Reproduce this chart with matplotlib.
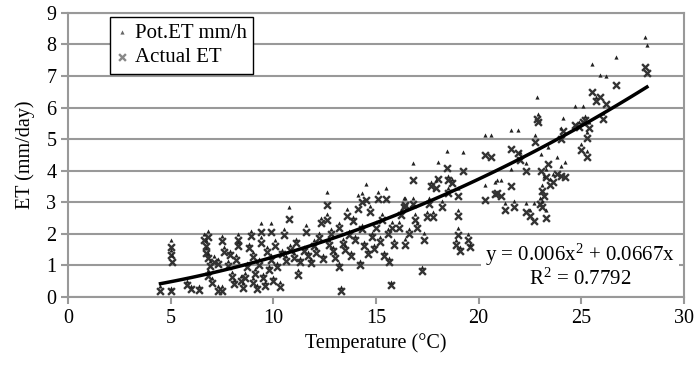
import numpy as np
import matplotlib
matplotlib.use('Agg')
import matplotlib.pyplot as plt

# temperature (C), potential ET and actual ET (mm/day)
temp = [4.5, 5.0, 5.0, 5.0, 5.05, 5.8, 6.0, 6.4, 6.6, 6.7, 6.8, 6.7, 6.8, 6.9, 6.8, 7.0,
        7.1, 7.3, 7.3, 7.5, 7.5, 7.6, 7.8, 7.9, 8.0, 8.1, 8.2, 8.3, 8.3, 8.4, 8.5, 8.6,
        8.7, 8.8, 8.9, 9.0, 9.0, 9.1, 9.2, 9.3, 9.4, 9.4, 9.5, 9.6, 9.7, 9.8, 9.9, 9.9,
        10.0, 10.1, 10.2, 10.3, 10.4, 10.5, 10.6, 10.75, 10.8, 11.0, 11.1, 11.2, 11.3,
        11.5, 11.6, 11.7, 11.85, 12.0, 12.1, 12.2, 12.3, 12.4, 12.6, 12.6, 12.7, 12.8,
        12.9, 13.0, 13.2, 13.2, 13.3, 13.4, 13.5, 13.6, 13.7, 13.8, 13.9, 14.0, 14.1,
        14.2, 14.3, 14.3, 14.4, 14.5, 14.6, 14.7, 14.8, 14.9, 15.0, 15.1, 15.2, 15.3,
        15.4, 15.5, 15.6, 15.65, 15.75, 15.8, 15.9, 16.1, 16.2, 16.35, 16.4, 16.4, 16.6,
        16.8, 16.8, 16.9, 17.0, 17.25, 17.35, 17.5, 17.6, 17.7, 17.8, 17.9, 18.0, 18.2,
        18.45, 18.5, 18.5, 18.7, 18.9, 19.0, 19.0, 19.0, 19.1, 19.25, 19.5, 19.6, 20.3,
        20.3, 20.6, 20.8, 20.9, 21.1, 21.3, 21.6, 21.6, 21.7, 21.9, 22.0, 22.3, 22.3,
        22.5, 22.7, 22.75, 22.85, 22.9, 23.0, 23.05, 23.1, 23.1, 23.2, 23.3, 23.3, 23.4,
        23.5, 23.6, 23.8, 24.0, 24.0, 24.1, 24.2, 24.7, 24.9, 25.0, 25.1, 25.2, 25.3,
        25.3, 25.4, 25.5, 25.7, 25.9, 26.05, 26.2, 26.7, 28.1, 28.2]
pot_et = [0.30, 0.26, 1.75, 1.45, 1.30, 0.48, 0.32, 0.30, 1.95, 1.75, 2.05, 1.50, 1.35, 1.10, 0.80, 0.55,
          1.25, 1.15, 0.30, 0.30, 1.90, 1.55, 1.10, 1.42, 0.75, 0.50, 1.30, 1.95, 1.70, 0.62, 0.40, 0.72,
          1.05, 1.65, 2.05, 1.40, 0.55, 0.85, 0.35, 1.15, 2.30, 1.85, 0.70, 0.45, 1.55, 0.95, 2.30, 1.30,
          0.60, 1.75, 1.05, 0.42, 1.45, 2.10, 1.25, 2.80, 1.60, 1.35, 1.80, 0.80, 1.20,
          1.55, 2.25, 1.40, 1.15, 1.75, 1.50, 2.00, 2.45, 1.30, 3.30, 2.60, 1.75, 2.10,
          1.55, 1.35, 2.30, 1.05, 0.28, 1.80, 1.60, 2.75, 2.05, 1.40, 2.50, 1.90, 3.20,
          1.10, 3.25, 2.25, 1.70, 3.55, 1.45, 2.85, 2.00, 1.60, 2.35, 3.30, 1.85, 2.60,
          1.40, 3.40, 2.10, 1.20, 0.45, 2.35, 1.75, 2.35, 2.70, 3.10, 1.80, 3.10, 2.10,
          4.20, 3.10, 2.60, 2.30, 0.90, 2.00, 2.65, 3.10, 3.60, 2.65, 3.65, 4.25, 3.00,
          4.60, 3.80, 3.40, 3.70, 1.75, 3.40, 2.70, 2.15, 1.55, 4.55, 1.95, 1.65, 5.10,
          3.50, 5.10, 3.60, 3.65, 3.65, 2.95, 5.25, 4.00, 3.00, 5.25, 4.55, 4.20, 2.95,
          2.70, 2.95, 5.10, 6.30, 5.75, 3.10, 4.50, 3.50, 3.00, 3.80, 4.00, 2.70, 4.70,
          3.70, 3.85, 4.40, 5.30, 4.10, 5.62, 4.25, 6.00, 5.50, 4.80, 6.00, 5.70, 5.20,
          4.60, 5.50, 7.35, 6.30, 7.00, 5.80, 6.95, 7.55, 8.20, 7.95]
act_et = [0.20, 0.18, 1.58, 1.32, 1.12, 0.38, 0.24, 0.22, 1.82, 1.62, 1.90, 1.40, 1.22, 0.98, 0.68, 0.45,
          1.12, 1.05, 0.20, 0.20, 1.78, 1.42, 0.98, 1.32, 0.62, 0.40, 1.18, 1.82, 1.60, 0.52, 0.30, 0.60,
          0.95, 1.55, 1.92, 1.28, 0.45, 0.72, 0.25, 1.02, 2.05, 1.72, 0.60, 0.35, 1.42, 0.85, 2.05, 1.18,
          0.50, 1.62, 0.95, 0.32, 1.35, 1.95, 1.15, 2.48, 1.50, 1.25, 1.70, 0.70, 1.10,
          1.45, 2.05, 1.30, 1.07, 1.62, 1.40, 1.88, 2.35, 1.20, 2.90, 2.45, 1.65, 1.98,
          1.45, 1.25, 2.20, 0.95, 0.20, 1.68, 1.50, 2.55, 1.95, 1.30, 2.40, 1.80, 2.80,
          1.00, 3.00, 2.15, 1.60, 3.07, 1.35, 2.70, 1.90, 1.52, 2.20, 3.10, 1.75, 2.45,
          1.30, 3.10, 2.00, 1.10, 0.38, 2.20, 1.65, 2.20, 2.60, 2.85, 1.65, 2.90, 2.00,
          3.70, 2.95, 2.45, 2.20, 0.83, 1.82, 2.53, 2.95, 3.50, 2.53, 3.45, 3.75, 2.85,
          4.10, 3.70, 3.30, 3.60, 1.64, 3.20, 2.55, 1.95, 1.45, 4.00, 1.80, 1.58, 4.50,
          3.07, 4.45, 3.25, 3.30, 3.20, 2.75, 4.70, 3.52, 2.85, 4.55, 4.35, 4.00, 2.70,
          2.55, 2.40, 4.90, 5.65, 5.55, 2.95, 4.00, 3.35, 2.85, 3.20, 3.80, 2.50, 4.20,
          3.55, 3.65, 3.90, 5.00, 3.84, 5.25, 3.80, 5.45, 5.40, 4.65, 5.55, 5.60, 5.05,
          4.45, 5.35, 6.50, 6.20, 6.35, 5.65, 6.10, 6.70, 7.30, 7.08]

# trendline from the chart label: y = 0.006x^2 + 0.0667x
trend_coef = [0.006, 0.0667, 0.0]
eq_text = r'y = 0.006x$^{2}$ + 0.0667x'
r2_text = r'R$^{2}$ = 0.7792'

plt.rcParams['font.family'] = ['Liberation Serif', 'DejaVu Serif']
plt.rcParams['mathtext.fontset'] = 'custom'
plt.rcParams['mathtext.rm'] = 'Liberation Serif'
plt.rcParams['mathtext.it'] = 'Liberation Serif'

fig = plt.figure(figsize=(6.95, 3.68), dpi=100)
ax = fig.add_axes([0.098, 0.193, 0.886, 0.772])

ax.set_xlim(0, 30)
ax.set_ylim(0, 9)
ax.set_xticks(range(0, 31, 5))
ax.set_yticks(range(0, 10))
ax.grid(axis='y', color='#999999', linewidth=1.5)
ax.set_axisbelow(True)
for s in ax.spines.values():
    s.set_color('#999999')
    s.set_linewidth(1.5)
ax.tick_params(colors='#999999', length=5, width=1.5, labelcolor='black', labelsize=14.5)

ax.scatter(temp, act_et, marker='x', s=24, linewidths=1.7, color='#333333',
           label='Actual ET', zorder=3)
ax.scatter(temp, [p + 0.04 for p in pot_et], marker='^', s=9, color='#222222',
           linewidths=0, label='Pot.ET mm/h', zorder=4)

xs = np.linspace(min(temp), max(temp), 100)
ax.plot(xs, np.polyval(trend_coef, xs), color='black', linewidth=2.5, zorder=5)

ax.text(0.831, 0.148, eq_text, transform=ax.transAxes, ha='center', va='center',
        fontsize=15, zorder=6,
        bbox=dict(facecolor='white', edgecolor='none', pad=3))
ax.text(0.831, 0.063, r2_text, transform=ax.transAxes, ha='center', va='center',
        fontsize=15, zorder=6,
        bbox=dict(facecolor='white', edgecolor='none', pad=3))

h, l = ax.get_legend_handles_labels()
leg = ax.legend(h[::-1], l[::-1], loc='upper left', bbox_to_anchor=(0.068, 0.986),
                borderaxespad=0, fontsize=15, frameon=True, fancybox=False, framealpha=1,
                handlelength=0.6, handletextpad=0.3, borderpad=0.3, labelspacing=0.25,
                markerscale=1.0)
leg.get_frame().set_edgecolor('black')
leg.get_frame().set_linewidth(1.0)
leg.legend_handles[0].set_color('#666666')
leg.legend_handles[1].set_color('#888888')

ax.set_xlabel('Temperature (\u00b0C)', fontsize=14.5)
ax.set_ylabel('ET (mm/day)', fontsize=14.5, labelpad=8)

fig.savefig('out.png', dpi=100)
